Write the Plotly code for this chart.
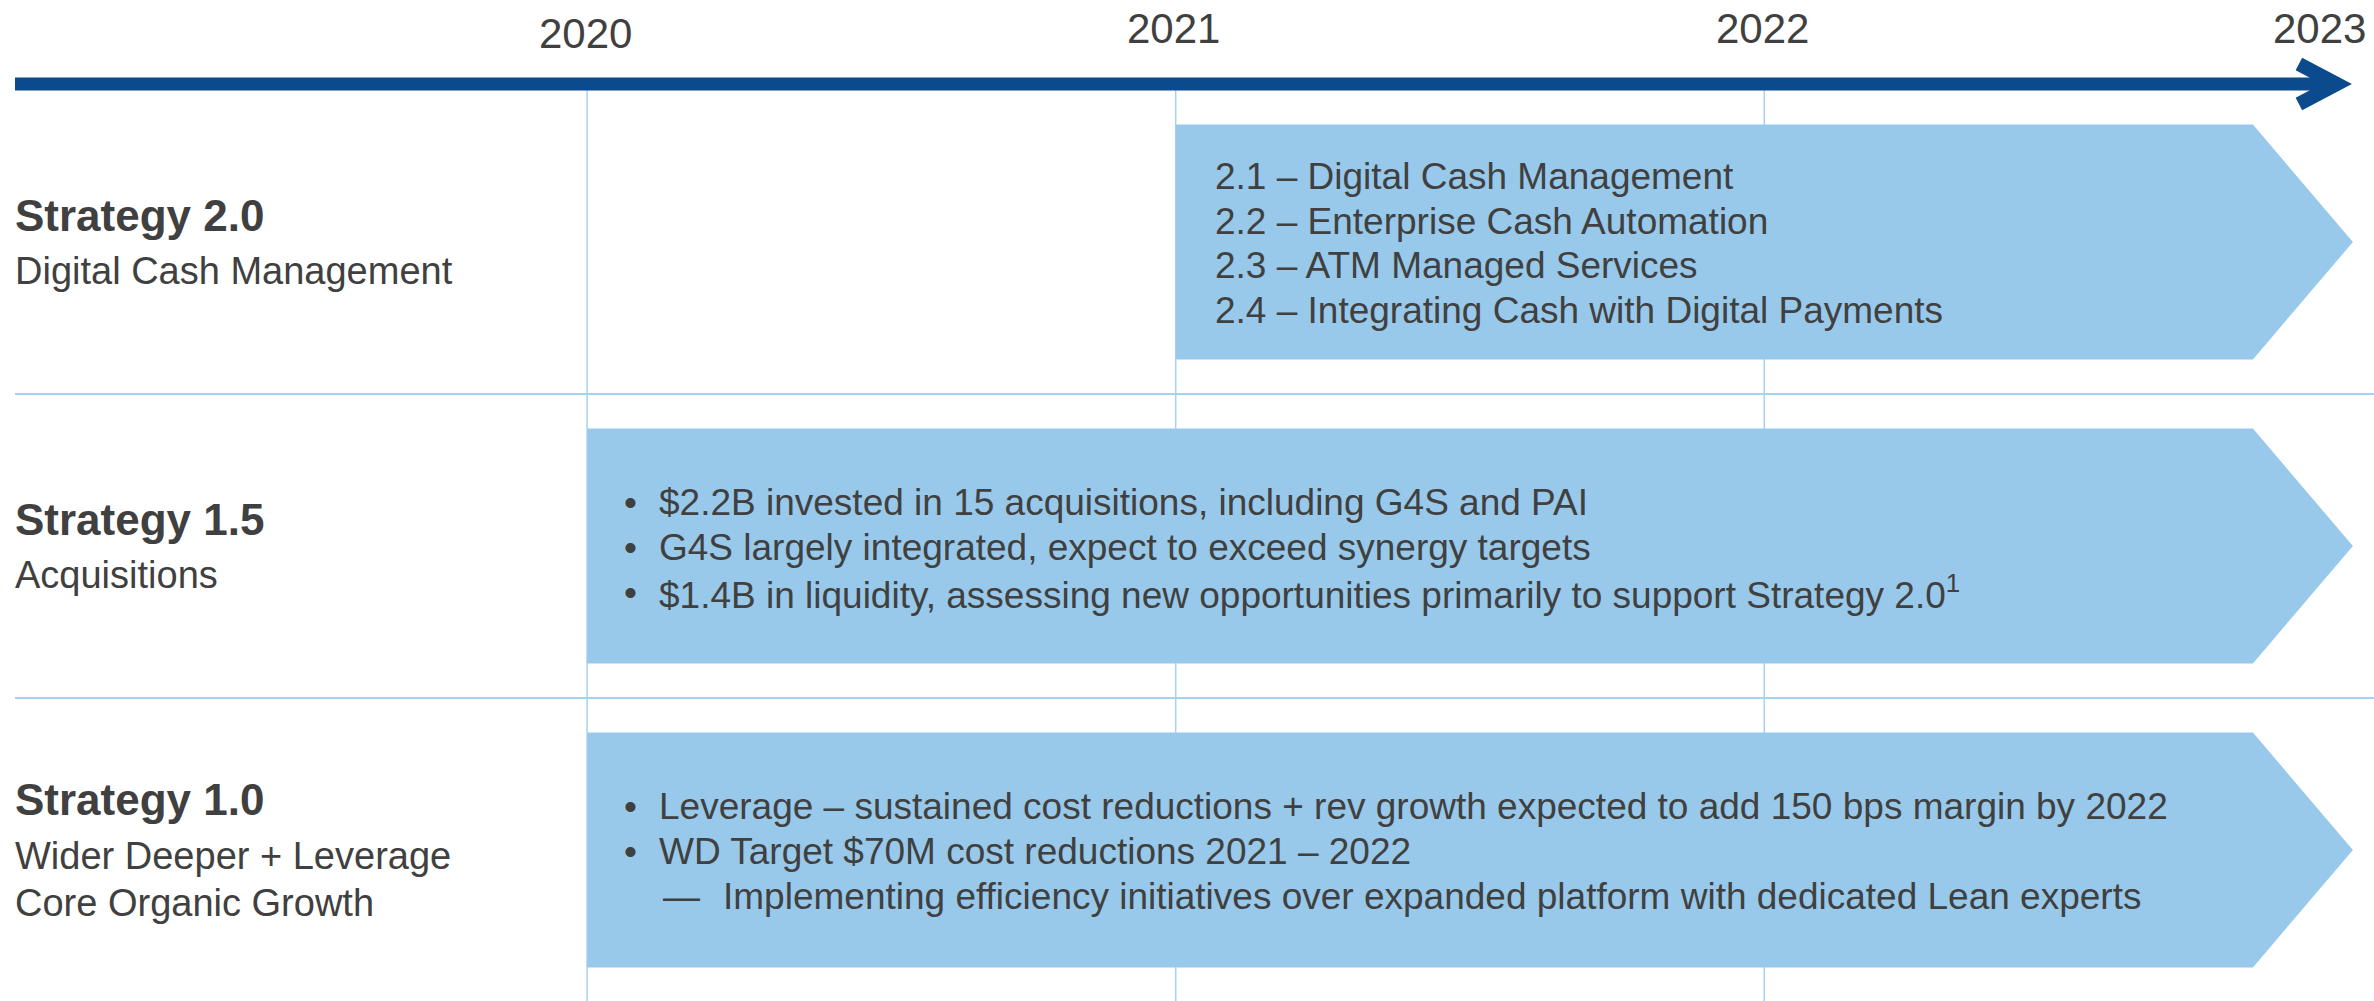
import plotly.graph_objects as go

# ---------------- data ----------------
years = [2020, 2021, 2022, 2023]
year_labels = ["2020", "2021", "2022", "2023"]

strategy_titles = ["Strategy 2.0", "Strategy 1.5", "Strategy 1.0"]
strategy_subtitles = [
    ["Digital Cash Management"],
    ["Acquisitions"],
    ["Wider Deeper + Leverage", "Core Organic Growth"],
]
strategy_rows = [2, 1, 0]           # row index (0 = bottom)
strategy_start = [2021, 2020, 2020]  # start year of each chevron
strategy_end = [2023, 2023, 2023]    # end year (chevron tip)

items_20 = [
    "2.1 – Digital Cash Management",
    "2.2 – Enterprise Cash Automation",
    "2.3 – ATM Managed Services",
    "2.4 – Integrating Cash with Digital Payments",
]
markers_20 = ["", "", "", ""]

items_15 = [
    "$2.2B invested in 15 acquisitions, including G4S and PAI",
    "G4S largely integrated, expect to exceed synergy targets",
    "$1.4B in liquidity, assessing new opportunities primarily to support Strategy 2.0<sup>1</sup>",
]
markers_15 = ["•", "•", "•"]

items_10 = [
    "Leverage – sustained cost reductions + rev growth expected to add 150 bps margin by 2022",
    "WD Target $70M cost reductions 2021 – 2022",
    "Implementing efficiency initiatives over expanded platform with dedicated Lean experts",
]
markers_10 = ["•", "•", "—"]

strategy_items = [items_20, items_15, items_10]
strategy_markers = [markers_20, markers_15, markers_10]

# ---------------- styling / geometry ----------------
W, H = 2374, 1001
PX_PER_YEAR = 588.6
X0_PX = 587.1          # pixel of year 2020
PX_PER_ROW = 304.0
Y0_PX = 1002.0         # pixel of row coordinate 0

X_RANGE = [2020 - X0_PX / PX_PER_YEAR, 2020 + (W - X0_PX) / PX_PER_YEAR]
Y_RANGE = [(Y0_PX - H) / PX_PER_ROW, Y0_PX / PX_PER_ROW]


def dx(px):
    return px / PX_PER_YEAR


def dy(px):
    return px / PX_PER_ROW


FONT = "Liberation Sans, Arial, Helvetica, sans-serif"
TEXT_COLOR = "#404040"
ARROW_COLOR = "#0B4A8C"
CHEVRON_COLOR = "#98C9EA"
GRID_COLOR = "#A6D2F0"

ROWS_TOP = 3.0
ARROW_Y = ROWS_TOP + dy(6)
CHEVRON_HALF = dy(117.5)
NOTCH = dx(100)

fig = go.Figure()

shapes = []
annotations = []

# vertical year gridlines
for yr in years[:-1]:
    shapes.append(dict(type="line", xref="x", yref="y", x0=yr, x1=yr,
                       y0=ROWS_TOP, y1=Y_RANGE[0] - 0.1,
                       line=dict(color=GRID_COLOR, width=1.5)))

# horizontal row dividers
for r in range(1, 3):
    shapes.append(dict(type="line", xref="x", yref="y",
                       x0=X_RANGE[0] + dx(15), x1=X_RANGE[1] + 0.1, y0=r, y1=r,
                       line=dict(color=GRID_COLOR, width=2)))

# chevrons
for row, s, e in zip(strategy_rows, strategy_start, strategy_end):
    c = row + 0.5
    top, bot = c + CHEVRON_HALF, c - CHEVRON_HALF
    path = (f"M {s},{top} L {e - NOTCH},{top} L {e},{c} "
            f"L {e - NOTCH},{bot} L {s},{bot} Z")
    shapes.append(dict(type="path", xref="x", yref="y", path=path,
                       fillcolor=CHEVRON_COLOR, line=dict(width=0)))

# timeline arrow
arrow_end = years[-1]
vertex = arrow_end - dx(16)
arm_x = vertex - dx(38)
shapes.append(dict(type="line", xref="x", yref="y",
                   x0=X_RANGE[0] + dx(15), x1=vertex - dx(4), y0=ARROW_Y, y1=ARROW_Y,
                   line=dict(color=ARROW_COLOR, width=13)))
shapes.append(dict(type="path", xref="x", yref="y",
                   path=f"M {arm_x},{ARROW_Y + dy(20)} L {vertex},{ARROW_Y} L {arm_x},{ARROW_Y - dy(20)}",
                   line=dict(color=ARROW_COLOR, width=14)))

# year labels
for i, (yr, lab) in enumerate(zip(years, year_labels)):
    last = i == len(years) - 1
    annotations.append(dict(x=yr, y=ARROW_Y, xref="x", yref="y", text=lab,
                            showarrow=False, xanchor="right" if last else "center",
                            yanchor="middle", xshift=15 if last else -2,
                            yshift=56 if i > 0 else 51,
                            font=dict(family=FONT, size=42, color=TEXT_COLOR)))

BASELINE_K = 0.34   # middle of text box sits ~0.34em above baseline

# left headings
TITLE_FS, SUB_FS = 44, 38
TITLE_GAP = 54     # title baseline -> first subtitle baseline
SUB_SPACING = 47   # subtitle baseline spacing
for row, title, subs in zip(strategy_rows, strategy_titles, strategy_subtitles):
    c = row + 0.5
    offs = [0.0] + [TITLE_GAP + j * SUB_SPACING for j in range(len(subs))]
    mid = offs[-1] / 2
    lines = [(f"<b>{title}</b>", TITLE_FS)] + [(s, SUB_FS) for s in subs]
    for (txt, fs), o in zip(lines, offs):
        base = 15 + o - mid   # px below centre
        annotations.append(dict(x=X_RANGE[0], y=c, xref="x", yref="y", text=txt,
                                showarrow=False, xanchor="left", yanchor="middle",
                                xshift=13, yshift=-(base - BASELINE_K * fs),
                                font=dict(family=FONT, size=fs, color=TEXT_COLOR)))

# chevron body text
BODY_FS = 37
BODY_SPACING = 44.7
for row, s, items, marks in zip(strategy_rows, strategy_start, strategy_items, strategy_markers):
    c = row + 0.5
    n = len(items)
    for k, (txt, mk) in enumerate(zip(items, marks)):
        base = 14 + (k - (n - 1) / 2) * BODY_SPACING
        ys = -(base - BASELINE_K * BODY_FS)
        if mk == "•":
            mark_off, text_off = 39, 74
        elif mk == "—":
            mark_off, text_off = 78, 138
        else:
            mark_off, text_off = None, 41
        if mark_off is not None:
            annotations.append(dict(x=s, y=c, xref="x", yref="y", text=mk,
                                    showarrow=False, xanchor="left", yanchor="middle",
                                    xshift=mark_off - 4, yshift=ys,
                                    font=dict(family=FONT, size=BODY_FS, color=TEXT_COLOR)))
        annotations.append(dict(x=s, y=c, xref="x", yref="y", text=txt,
                                showarrow=False, xanchor="left", yanchor="middle",
                                xshift=text_off - 4, yshift=ys,
                                font=dict(family=FONT, size=BODY_FS, color=TEXT_COLOR)))

fig.update_layout(
    width=W, height=H,
    margin=dict(l=0, r=0, t=0, b=0),
    paper_bgcolor="white", plot_bgcolor="white",
    xaxis=dict(range=X_RANGE, visible=False, fixedrange=True),
    yaxis=dict(range=Y_RANGE, visible=False, fixedrange=True),
    shapes=shapes, annotations=annotations,
    showlegend=False,
)

fig.write_html(
    "out.html",
    config={"displayModeBar": False},
    post_script="document.body.style.margin='0px';document.body.style.padding='0px';",
)
